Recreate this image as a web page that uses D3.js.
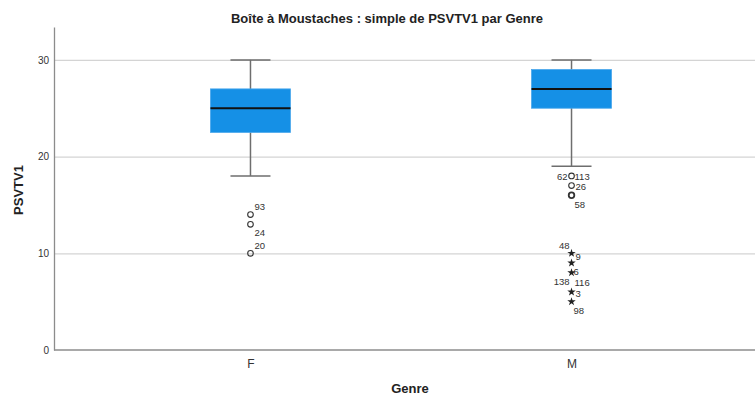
<!DOCTYPE html>
<html>
<head>
<meta charset="utf-8">
<script src="https://cdn.jsdelivr.net/npm/d3@7"></script>
<style>
  html, body { margin: 0; padding: 0; background: #fff; }
  svg { display: block; font-family: "Liberation Sans", Arial, sans-serif; }
</style>
</head>
<body>
<svg id="chart" width="755" height="396"></svg>
<script>
// ---- data ----
const genres = ["F", "M"];
const whiskerLow = [18, 19];
const q1 = [22.5, 25];
const median = [25, 27];
const q3 = [27, 29];
const whiskerHigh = [30, 30];
// outliers (circles) and extremes (stars)
const outlierGenre = ["F", "F", "F", "M", "M", "M"];
const outlierValue = [14, 13, 10, 18, 17, 16];
const outlierMulti = [false, false, false, false, false, true];
const extremeGenre = ["M", "M", "M", "M", "M"];
const extremeValue = [10, 9, 8, 6, 5];
// case labels
const labelText  = ["93", "24", "20", "62", "113", "26", "58", "48", "9", "6", "138", "116", "3", "98"];
const labelGenre = ["F", "F", "F", "M", "M", "M", "M", "M", "M", "M", "M", "M", "M", "M"];
const labelValue = [14, 13, 10, 18, 18, 17, 16, 10, 10, 8, 6, 6, 6, 5];
const yTicks = [0, 10, 20, 30];

// ---- layout ----
const svg = d3.select("#chart");
const mLeft = 54, mRight = 755, mTop = 27, mBottom = 350;

const x = d3.scalePoint().domain(genres).range([mLeft, 768]).padding(0.612);
const y = d3.scaleLinear().domain([0, 33.4]).range([mBottom, mTop]);

// grid lines
svg.append("g").selectAll("line").data(yTicks.filter(d => d > 0)).join("line")
  .attr("x1", mLeft).attr("x2", mRight)
  .attr("y1", d => y(d) + 0.5).attr("y2", d => y(d) + 0.5)
  .attr("stroke", "#d4d4d4").attr("stroke-width", 1.2);

// y axis
const yAxis = svg.append("g").attr("transform", `translate(${mLeft},0)`)
  .call(d3.axisLeft(y).tickValues(yTicks).tickSize(0).tickPadding(5));
yAxis.select(".domain").attr("stroke", "#8c8c8c").attr("stroke-width", 1.3);
yAxis.selectAll("text").attr("font-size", 10).attr("fill", "#333")
  .attr("font-family", "Liberation Sans, Arial, sans-serif");

// x axis
const xAxis = svg.append("g").attr("transform", `translate(0,${mBottom})`)
  .call(d3.axisBottom(x).tickSize(0).tickPadding(9));
xAxis.select(".domain").attr("d", `M${mLeft},0H${mRight}`)
  .attr("stroke", "#8c8c8c").attr("stroke-width", 1.3);
xAxis.selectAll("text").attr("font-size", 12).attr("fill", "#333")
  .attr("font-family", "Liberation Sans, Arial, sans-serif");

// boxes
const boxW = 80, capW = 40;
const stats = genres.map((g, i) => ({ g, lo: whiskerLow[i], q1: q1[i], med: median[i], q3: q3[i], hi: whiskerHigh[i] }));
const bg = svg.append("g").selectAll("g").data(stats).join("g");
bg.append("line")
  .attr("x1", d => x(d.g)).attr("x2", d => x(d.g))
  .attr("y1", d => y(d.lo)).attr("y2", d => y(d.hi))
  .attr("stroke", "#6e6e6e").attr("stroke-width", 1.5);
bg.append("line")
  .attr("x1", d => x(d.g) - capW / 2).attr("x2", d => x(d.g) + capW / 2)
  .attr("y1", d => y(d.hi)).attr("y2", d => y(d.hi))
  .attr("stroke", "#6e6e6e").attr("stroke-width", 1.5);
bg.append("line")
  .attr("x1", d => x(d.g) - capW / 2).attr("x2", d => x(d.g) + capW / 2)
  .attr("y1", d => y(d.lo)).attr("y2", d => y(d.lo))
  .attr("stroke", "#6e6e6e").attr("stroke-width", 1.5);
bg.append("rect")
  .attr("x", d => x(d.g) - boxW / 2).attr("width", boxW)
  .attr("y", d => y(d.q3)).attr("height", d => y(d.q1) - y(d.q3))
  .attr("fill", "#1590e6").attr("stroke", "#4aa7ec").attr("stroke-width", 0.8);
bg.append("line")
  .attr("x1", d => x(d.g) - boxW / 2).attr("x2", d => x(d.g) + boxW / 2)
  .attr("y1", d => y(d.med)).attr("y2", d => y(d.med))
  .attr("stroke", "#111").attr("stroke-width", 2);

// outliers
svg.append("g").selectAll("circle").data(outlierValue.map((v, i) => ({ g: outlierGenre[i], v, multi: outlierMulti[i] })))
  .join("circle")
  .attr("cx", d => x(d.g)).attr("cy", d => y(d.v)).attr("r", 2.8)
  .attr("fill", "none").attr("stroke", "#333").attr("stroke-width", d => d.multi ? 1.8 : 1.1);

// extremes (stars)
const star = d3.symbol().type(d3.symbolStar).size(22);
svg.append("g").selectAll("path").data(extremeValue.map((v, i) => ({ g: extremeGenre[i], v })))
  .join("path")
  .attr("d", star)
  .attr("transform", d => `translate(${x(d.g)},${y(d.v)})`)
  .attr("fill", "#222");

// case labels (offsets set here, not in data)
const labelOffsets = {
  "93": [4, -4.5, "start"], "24": [4, 12, "start"], "20": [4, -4, "start"],
  "62": [-4, 4, "end"], "113": [3, 4, "start"], "26": [4, 4.5, "start"], "58": [3, 12.5, "start"],
  "48": [-2, -4.5, "end"], "9": [4, 6.5, "start"], "6": [2, 2.5, "start"],
  "138": [-2, -7, "end"], "116": [3, -6, "start"], "3": [4, 5.5, "start"], "98": [2, 12, "start"]
};
svg.append("g").selectAll("text").data(labelText.map((t, i) => ({ t, g: labelGenre[i], v: labelValue[i] })))
  .join("text")
  .attr("x", d => x(d.g) + labelOffsets[d.t][0])
  .attr("y", d => y(d.v) + labelOffsets[d.t][1])
  .attr("text-anchor", d => labelOffsets[d.t][2])
  .attr("font-size", 9.5).attr("fill", "#333")
  .text(d => d.t);

// titles
svg.append("text").attr("x", 387).attr("y", 23).attr("text-anchor", "middle")
  .attr("font-size", 13).attr("font-weight", "bold").attr("fill", "#222")
  .text("Boîte à Moustaches : simple de PSVTV1 par Genre");
svg.append("text").attr("x", 410).attr("y", 393).attr("text-anchor", "middle")
  .attr("font-size", 13).attr("font-weight", "bold").attr("fill", "#222")
  .text("Genre");
svg.append("text").attr("transform", "translate(23,190) rotate(-90)").attr("text-anchor", "middle")
  .attr("font-size", 13).attr("font-weight", "bold").attr("fill", "#222")
  .text("PSVTV1");
</script>
</body>
</html>
